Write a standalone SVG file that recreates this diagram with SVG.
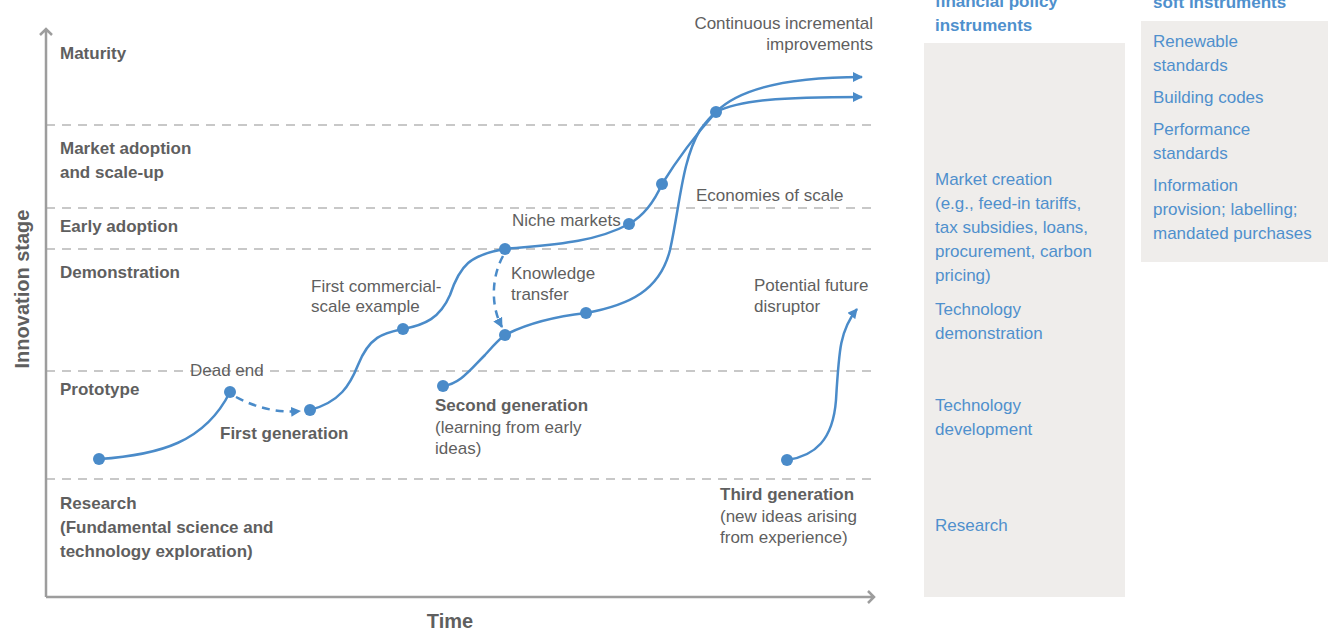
<svg xmlns="http://www.w3.org/2000/svg" width="1328" height="630" viewBox="0 0 1328 630">
<style>
.lbl{font-family:"Liberation Sans",Arial,sans-serif;font-size:17px;fill:#5f5f5f}
.b{font-weight:bold}
.ax{font-size:20px}
.pol{font-family:"Liberation Sans",Arial,sans-serif;font-size:17px;fill:#4f90cd}
.axis{stroke:#9d9d9d;stroke-width:2.5;fill:none}
.grid{stroke:#b7b7b7;stroke-width:1.5;stroke-dasharray:9 7;fill:none}
.curve{stroke:#4a8bc9;stroke-width:2.5;fill:none}
.dash{stroke:#4a8bc9;stroke-width:2.5;fill:none;stroke-dasharray:8 6}
.dot{fill:#4a8bc9}
.box{fill:#efedeb}
</style>
<defs>
<marker id="ah" viewBox="0 0 10 10" refX="9" refY="5" markerWidth="4" markerHeight="4" orient="auto" markerUnits="strokeWidth">
<path d="M0,0 L10,5 L0,10 Z" fill="#4a8bc9"/>
</marker>
</defs>
<rect width="1328" height="630" fill="#fff"/>

<g id="policy-boxes">
<rect class="box" x="924" y="43" width="201" height="554"/>
<rect class="box" x="1141" y="21" width="187" height="241"/>
<text class="pol b" x="935" y="7">financial policy</text>
<text class="pol b" x="935" y="31">instruments</text>
<text class="pol b" x="1153" y="8">soft instruments</text>
<text class="pol" x="935" y="185">Market creation</text>
<text class="pol" x="935" y="209">(e.g., feed-in tariffs,</text>
<text class="pol" x="935" y="233">tax subsidies, loans,</text>
<text class="pol" x="935" y="257">procurement, carbon</text>
<text class="pol" x="935" y="281">pricing)</text>
<text class="pol" x="935" y="315">Technology</text>
<text class="pol" x="935" y="339">demonstration</text>
<text class="pol" x="935" y="411">Technology</text>
<text class="pol" x="935" y="435">development</text>
<text class="pol" x="935" y="531">Research</text>
<text class="pol" x="1153" y="47">Renewable</text>
<text class="pol" x="1153" y="71">standards</text>
<text class="pol" x="1153" y="103">Building codes</text>
<text class="pol" x="1153" y="135">Performance</text>
<text class="pol" x="1153" y="159">standards</text>
<text class="pol" x="1153" y="191">Information</text>
<text class="pol" x="1153" y="215">provision; labelling;</text>
<text class="pol" x="1153" y="239">mandated purchases</text>
</g>

<g id="axes">
<path class="grid" d="M46,125 H873 M46,208 H873 M46,249 H873 M46,371 H873 M46,479 H873"/>
<path class="axis" d="M46,597 V29 M40,35 L46,29 L52,35"/>
<path class="axis" d="M46,597 H874 M868,591 L874,597 L868,603"/>
<text class="lbl b ax" transform="translate(29,289) rotate(-90)" text-anchor="middle">Innovation stage</text>
<text class="lbl b ax" x="450" y="628" text-anchor="middle">Time</text>
</g>

<g id="stages">
<text class="lbl b" x="60" y="59">Maturity</text>
<text class="lbl b" x="60" y="154">Market adoption</text>
<text class="lbl b" x="60" y="178">and scale-up</text>
<text class="lbl b" x="60" y="232">Early adoption</text>
<text class="lbl b" x="60" y="278">Demonstration</text>
<text class="lbl b" x="60" y="395">Prototype</text>
<text class="lbl b" x="60" y="509">Research</text>
<text class="lbl b" x="60" y="533">(Fundamental science and</text>
<text class="lbl b" x="60" y="557">technology exploration)</text>
</g>

<g id="connectors">
<path class="curve" d="M99,459 C160,455 205,442 230,392"/>
<path class="dash" d="M236,397 Q268,414 300,411" marker-end="url(#ah)"/>
<path class="curve" d="M310,410 C340,402 350,385 358,365 C370,335 385,333 403,329 C425,325 440,318 450,295 C460,265 470,255 505,249 C540,245 590,245 629,224 C645,215 655,200 662,184 C680,155 700,130 716,112 C740,100 780,97 862,97" marker-end="url(#ah)"/>
<path class="dash" d="M503,256 C492,276 490,305 502,327" marker-end="url(#ah)"/>
<path class="curve" d="M443,386 C460,384 470,370 485,355 C493,346 498,340 505,335 C530,322 560,316 586,313 C630,305 660,290 670,250 C680,205 682,160 700,130 C706,122 711,116 716,112 C740,88 790,77 862,77" marker-end="url(#ah)"/>
<path class="curve" d="M787,460 C815,456 833,440 836,400 C839,350 840,330 857,309" marker-end="url(#ah)"/>
</g>

<g id="points">
<circle class="dot" cx="99" cy="459" r="6"/>
<circle class="dot" cx="230" cy="392" r="6"/>
<circle class="dot" cx="310" cy="410" r="6"/>
<circle class="dot" cx="403" cy="329" r="6"/>
<circle class="dot" cx="505" cy="249" r="6"/>
<circle class="dot" cx="629" cy="224" r="6"/>
<circle class="dot" cx="662" cy="184" r="6"/>
<circle class="dot" cx="716" cy="112" r="6"/>
<circle class="dot" cx="443" cy="386" r="6"/>
<circle class="dot" cx="505" cy="335" r="6"/>
<circle class="dot" cx="586" cy="313" r="6"/>
<circle class="dot" cx="787" cy="460" r="6"/>
</g>

<g id="labels">
<text class="lbl" x="190" y="376">Dead end</text>
<text class="lbl b" x="220" y="439">First generation</text>
<text class="lbl" x="311" y="292">First commercial-</text>
<text class="lbl" x="311" y="312">scale example</text>
<text class="lbl" x="512" y="226">Niche markets</text>
<text class="lbl" x="511" y="279">Knowledge</text>
<text class="lbl" x="511" y="300">transfer</text>
<text class="lbl" x="696" y="201">Economies of scale</text>
<text class="lbl" x="873" y="29" text-anchor="end">Continuous incremental</text>
<text class="lbl" x="873" y="50" text-anchor="end">improvements</text>
<text class="lbl" x="754" y="291">Potential future</text>
<text class="lbl" x="754" y="312">disruptor</text>
<text class="lbl b" x="435" y="411">Second generation</text>
<text class="lbl" x="435" y="433">(learning from early</text>
<text class="lbl" x="435" y="454">ideas)</text>
<text class="lbl b" x="720" y="500">Third generation</text>
<text class="lbl" x="720" y="522">(new ideas arising</text>
<text class="lbl" x="720" y="543">from experience)</text>
</g>
</svg>
